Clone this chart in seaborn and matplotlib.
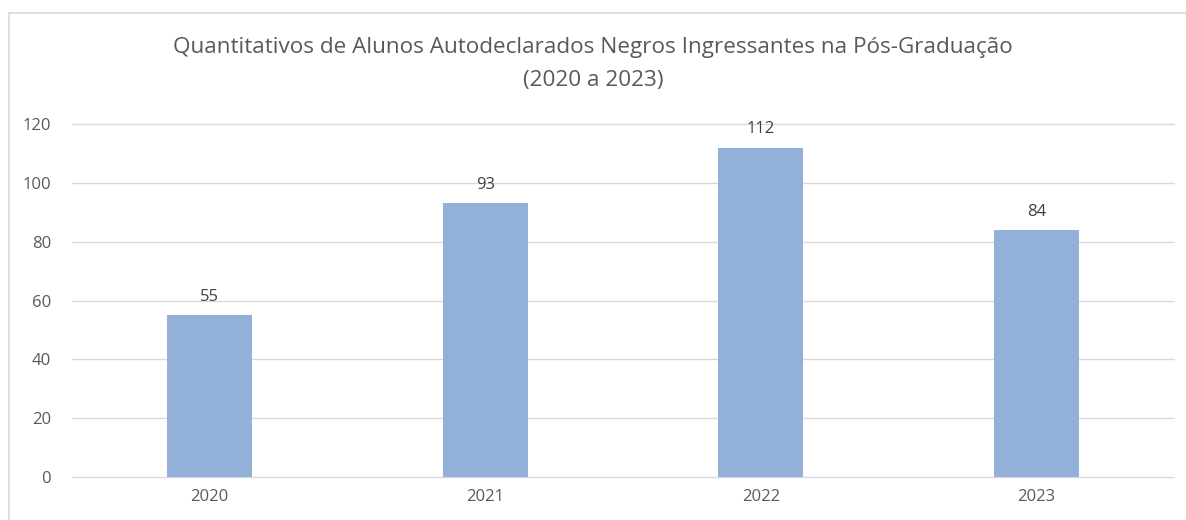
import numpy as np
import pandas as pd
import seaborn as sns
from matplotlib import pyplot as plt
from matplotlib.patches import Rectangle

anos = ['2020', '2021', '2022', '2023']
alunos = [55, 93, 112, 84]

sns.set_style("white")
plt.rcParams['font.family'] = ['Open Sans', 'DejaVu Sans']

txt = '#595959'
grid = '#d9d9d9'

fig = plt.figure(figsize=(11.86, 5.2), dpi=100)
ax = fig.add_axes([0.0607, 0.0827, 0.9292, 0.6788])

df = pd.DataFrame({'ano': anos, 'alunos': alunos})
sns.barplot(data=df, x='ano', y='alunos', color='#92B0D8', saturation=1, width=0.31,
            linewidth=0, ax=ax)

for i, v in enumerate(alunos):
    ax.text(i, v + 3.5, str(v), ha='center', va='bottom', fontsize=12, color='#404040')

ax.set_ylim(0, 120)
ax.set_xlim(-0.5, 3.5)
ax.set_yticks(np.arange(0, 121, 20))
ax.yaxis.grid(True, color=grid, lw=1)
for gl in ax.get_ygridlines():
    gl.set_clip_on(False)
ax.set_axisbelow(True)
for s in ax.spines.values():
    s.set_visible(False)
ax.tick_params(axis='both', length=0, labelsize=12, labelcolor=txt)
ax.tick_params(axis='y', pad=15)
ax.tick_params(axis='x', pad=9)
ax.set_xlabel('')
ax.set_ylabel('')

fig.text(0.5, 0.908, 'Quantitativos de Alunos Autodeclarados Negros Ingressantes na Pós-Graduação',
         ha='center', va='center', fontsize=16.2, color=txt)
fig.text(0.5, 0.845, '(2020 a 2023)', ha='center', va='center', fontsize=16.2, color=txt)

fig.patches.append(Rectangle((9 / 1186, -0.1), 1.2, 1.1 - 13 / 520, transform=fig.transFigure,
                             fill=False, edgecolor=grid, lw=1.2))

fig.savefig('out.png', dpi=100)
